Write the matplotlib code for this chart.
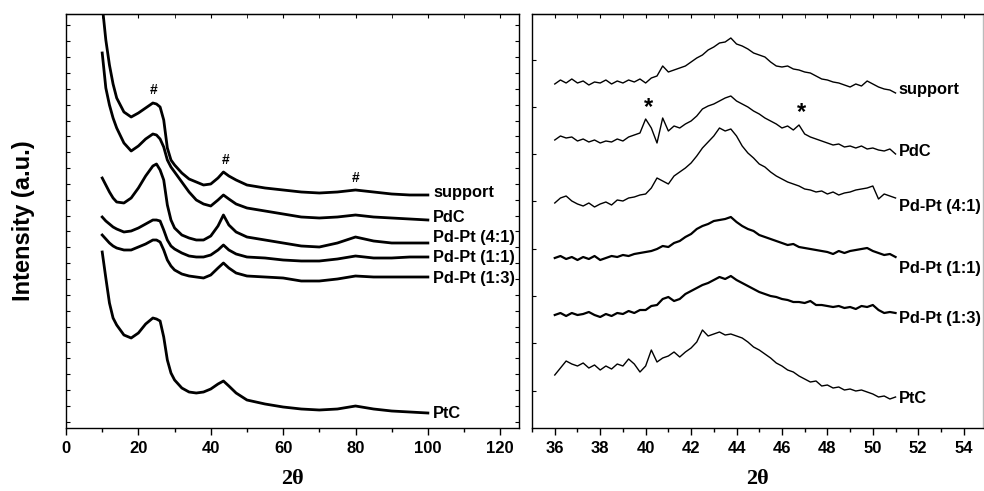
import numpy as np
import matplotlib
matplotlib.use('Agg')
import matplotlib.pyplot as plt
from matplotlib.ticker import MultipleLocator, FixedLocator

plt.rcParams['font.family'] = ['Liberation Sans', 'DejaVu Sans']
plt.rcParams['font.weight'] = 'bold'

# ---- left panel: wide scan (2theta 10-100) ----
wide_x = [10, 11, 12, 13, 14, 16, 18, 20, 22, 24, 25, 26, 27, 28, 29, 30, 32, 34,
          36, 38, 40, 42, 43.5, 45, 47, 50, 55, 60, 65, 70, 75, 80, 85, 90, 95, 100]

wide_support = [423, 388, 363, 344, 330, 316, 311, 315, 320, 325, 324, 321, 308, 280, 268, 263, 255, 249,
                246, 243, 244, 250, 256, 252, 248, 243, 240, 238, 236, 235, 236, 238, 236, 234, 233, 233]
wide_pdc = [375, 340, 323, 310, 300, 285, 277, 282, 289, 294, 293, 289, 281, 268, 261, 256, 246, 236,
            228, 224, 222, 228, 233, 229, 224, 220, 217, 214, 211, 210, 211, 213, 211, 210, 209, 208]
wide_pdpt41 = [250, 243, 236, 230, 226, 225, 230, 240, 252, 262, 264, 258, 248, 223, 208, 200, 193, 190,
               188, 188, 192, 202, 213, 203, 196, 191, 188, 185, 182, 181, 185, 191, 187, 185, 185, 185]
wide_pdpt11 = [211, 207, 204, 201, 199, 196, 197, 200, 204, 208, 208, 207, 198, 188, 182, 179, 175, 172,
               171, 171, 173, 178, 183, 178, 174, 171, 170, 168, 167, 167, 169, 172, 170, 170, 171, 171]
wide_pdpt13 = [193, 189, 185, 182, 180, 178, 178, 181, 184, 188, 188, 186, 178, 168, 162, 158, 154, 152,
               151, 150, 153, 160, 165, 160, 155, 152, 151, 150, 147, 147, 149, 152, 151, 151, 151, 151]
wide_ptc = [176, 150, 125, 110, 103, 93, 90, 95, 104, 110, 109, 107, 91, 68, 55, 48, 40, 36,
            35, 36, 39, 44, 47, 42, 35, 28, 24, 21, 19, 18, 19, 22, 19, 17, 16, 15]

# ---- right panel: narrow scan (2theta 36-51) ----
narrow_x = np.arange(36, 51.01, 0.25)

narrow_support = [344, 348, 345, 349, 345, 347, 343, 346, 345, 348, 344, 347, 345, 348, 346, 349, 345,
                  350, 352, 362, 356, 358, 360, 362, 366, 370, 373, 378, 381, 385, 386, 390, 384, 382, 379, 375, 373,
                  371, 366, 362, 361, 362, 359, 358, 356, 355, 352, 349, 348, 346, 345, 343, 341, 344, 342,
                  347, 344, 341, 339, 338, 335]
narrow_pdc = [288, 292, 290, 291, 287, 289, 286, 288, 285, 287, 286, 289, 287, 291, 293, 295, 309,
              300, 285, 310, 297, 302, 300, 304, 307, 312, 319, 322, 324, 327, 330, 332, 327, 324, 321, 317, 314,
              310, 307, 304, 300, 302, 298, 303, 294, 291, 289, 287, 285, 283, 284, 281, 282, 280, 282,
              279, 280, 278, 277, 279, 274]
narrow_pdpt41 = [225, 230, 232, 227, 224, 222, 225, 221, 224, 226, 223, 228, 227, 230, 231, 233, 234,
                 240, 250, 247, 244, 252, 256, 260, 265, 272, 280, 286, 292, 300, 297, 299, 292, 282, 275, 270, 264,
                 261, 256, 252, 249, 246, 244, 242, 239, 238, 236, 237, 234, 236, 233, 235, 236, 238, 239,
                 240, 242, 229, 234, 232, 230]
narrow_pdpt11 = [170, 172, 169, 171, 168, 171, 169, 172, 168, 170, 172, 171, 173, 172, 174, 175, 176,
                 177, 179, 182, 181, 185, 187, 191, 194, 199, 202, 204, 207, 208, 209, 211, 206, 202, 199, 197, 193,
                 191, 189, 187, 185, 183, 184, 181, 180, 179, 178, 177, 176, 174, 177, 175, 177, 178, 179,
                 180, 177, 175, 173, 174, 171]
narrow_pdpt13 = [113, 115, 112, 115, 113, 114, 116, 113, 111, 114, 112, 115, 114, 117, 115, 118, 118,
                 122, 123, 129, 131, 127, 129, 134, 137, 140, 143, 145, 148, 151, 149, 152, 148, 145, 142, 139, 136,
                 134, 132, 131, 129, 128, 126, 126, 125, 127, 123, 123, 122, 121, 122, 120, 121, 119, 122,
                 121, 123, 118, 115, 116, 115]
narrow_ptc = [53, 60, 67, 64, 62, 65, 60, 63, 58, 62, 59, 64, 62, 69, 64, 56, 62,
              78, 66, 70, 72, 76, 71, 76, 80, 86, 98, 92, 94, 96, 93, 94, 92, 90, 86, 81, 78,
              74, 70, 65, 62, 58, 56, 52, 49, 46, 47, 42, 43, 40, 41, 38, 39, 37, 38,
              36, 34, 31, 32, 29, 31]

labels = ['support', 'PdC', 'Pd-Pt (4:1)', 'Pd-Pt (1:1)', 'Pd-Pt (1:3)', 'PtC']
wide_series = [wide_support, wide_pdc, wide_pdpt41, wide_pdpt11, wide_pdpt13, wide_ptc]
narrow_series = [narrow_support, narrow_pdc, narrow_pdpt41, narrow_pdpt11, narrow_pdpt13, narrow_ptc]
wide_label_y = [235, 210, 190, 171, 150, 15]
narrow_label_y = [338, 276, 221, 160, 110, 30]

fig = plt.figure(figsize=(9.84, 4.91), dpi=100)
ax1 = fig.add_axes([0.0671, 0.1283, 0.4604, 0.8432])
ax2 = fig.add_axes([0.5407, 0.1283, 0.4583, 0.8432])

# left panel
for ys, lab, ly in zip(wide_series, labels, wide_label_y):
    ax1.plot(wide_x, ys, color='black', lw=2.0)
    ax1.text(101.5, ly, lab, fontsize=11.8, fontweight='bold', va='center', ha='left')
for mx, my in [(24.3, 338), (44.0, 268), (79.9, 250)]:
    ax1.text(mx, my, '#', fontsize=10, fontweight='bold', ha='center', va='center')

ax1.set_xlim(0, 125.2)
ax1.set_ylim(0, 414)
ax1.xaxis.set_major_locator(MultipleLocator(20))
ax1.xaxis.set_minor_locator(MultipleLocator(10))
ax1.yaxis.set_major_locator(FixedLocator(np.arange(6.3, 414, 15.85)))
ax1.set_ylabel('Intensity (a.u.)', fontsize=17, fontweight='bold', labelpad=22)
ax1.set_xlabel('2θ', fontsize=16, fontweight='bold', family='Liberation Serif', labelpad=10)

# right panel
widths = [1.0, 1.0, 1.0, 1.6, 1.6, 1.0]
for ys, lab, ly, w in zip(narrow_series, labels, narrow_label_y, widths):
    ax2.plot(narrow_x, ys, color='black', lw=w)
    ax2.text(51.15, ly, lab, fontsize=11.8, fontweight='bold', va='center', ha='left')
for mx, my in [(40.14, 320), (46.87, 315)]:
    ax2.text(mx, my, '*', fontsize=17, fontweight='bold', ha='center', va='center')

ax2.set_xlim(35, 54.85)
ax2.set_ylim(0, 414)
ax2.xaxis.set_major_locator(MultipleLocator(2))
ax2.xaxis.set_minor_locator(MultipleLocator(1))
ax2.yaxis.set_major_locator(FixedLocator(np.arange(37.3, 414, 47.3)))
ax2.set_xlabel('2θ', fontsize=16, fontweight='bold', family='Liberation Serif', labelpad=10)
ax2.spines['right'].set_color('#bbbbbb')

for ax, step, minor in [(ax1, 20, 10), (ax2, 2, 1)]:
    ax.tick_params(axis='x', which='major', direction='out', length=5, width=1, labelsize=12, pad=4)
    ax.tick_params(axis='x', which='minor', direction='out', length=3, width=1)
    ax.tick_params(axis='y', which='major', direction='in', length=3, width=0.8, labelleft=False)
    top = ax.secondary_xaxis('top')
    top.xaxis.set_major_locator(MultipleLocator(step))
    top.xaxis.set_minor_locator(MultipleLocator(minor))
    top.tick_params(axis='x', which='both', direction='in', length=3, labeltop=False)
    for sp in ax.spines.values():
        sp.set_linewidth(1.0)

ax1.tick_params(axis='y', which='major', right=True)
ax2.tick_params(axis='y', which='major', right=False)

plt.savefig('out.png', dpi=100)
plt.close()
